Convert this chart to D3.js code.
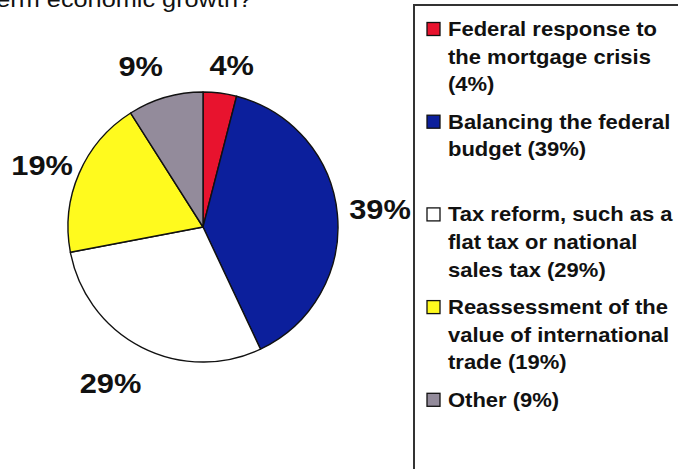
<!DOCTYPE html>
<html>
<head>
<meta charset="utf-8">
<script src="https://cdn.jsdelivr.net/npm/d3@7"></script>
<style>
  html, body { margin: 0; padding: 0; background: #ffffff; }
  svg { display: block; }
  text { font-family: "Liberation Sans", Arial, sans-serif; fill: #111; }
</style>
</head>
<body>
<svg id="chart" width="678" height="469"></svg>
<script>
// ---- data ----
const categories = [
  "Federal response to the mortgage crisis",
  "Balancing the federal budget",
  "Tax reform, such as a flat tax or national sales tax",
  "Reassessment of the value of international trade",
  "Other"
];
const values = [4, 39, 29, 19, 9];
const legendLines = [
  ["Federal response to", "the mortgage crisis", "(4%)"],
  ["Balancing the federal", "budget (39%)"],
  ["Tax reform, such as a", "flat tax or national", "sales tax (29%)"],
  ["Reassessment of the", "value of international", "trade (19%)"],
  ["Other (9%)"]
];
const titleText = "term economic growth?";

// ---- styles / layout ----
const sliceColors = ["#e8132e", "#0c1f9c", "#ffffff", "#fffa1e", "#938b9b"];
const svg = d3.select("#chart");
const cx = 203, cy = 227, radius = 135;

// title (cut off at top like the reference)
svg.append("text")
  .attr("transform", "translate(252,6.5) scale(1.15,1)")
  .attr("text-anchor", "end")
  .style("font-size", "22px")
  .text(titleText);

// pie
const pie = d3.pie().sort(null).value(d => d);
const arcs = pie(values);
const arc = d3.arc().innerRadius(0).outerRadius(radius);
const g = svg.append("g").attr("transform", `translate(${cx},${cy})`);
g.selectAll("path").data(arcs).join("path")
  .attr("d", arc)
  .attr("fill", (d, i) => sliceColors[i])
  .attr("stroke", "#111")
  .attr("stroke-width", 1.4)
  .attr("stroke-linejoin", "round");

// percentage labels outside the pie
const labelSize = 28, labelSx = 1.1, capH = 0.716 * labelSize, gap = 16;
const nudges = [[7, -2], [-4, -3], [-10, 13], [6, 2], [-14, -6]];
arcs.forEach((d, i) => {
  const a = (d.startAngle + d.endAngle) / 2;
  const s = Math.sin(a), c = Math.cos(a);
  const t = g.append("text")
    .attr("text-anchor", "middle")
    .style("font-size", labelSize + "px")
    .style("font-weight", "bold")
    .text(values[i] + "%");
  const w = t.node().getComputedTextLength() * labelSx;
  const x = (radius + gap) * s + s * w / 2 + nudges[i][0];
  const y = -(radius + gap) * c - c * capH / 2 + nudges[i][1];
  t.attr("transform", `translate(${x},${y + capH / 2}) scale(${labelSx},1)`);
});

// legend box (extends past right/bottom edges)
svg.append("path")
  .attr("d", "M414,470 V5 H680")
  .attr("fill", "none")
  .attr("stroke", "#333")
  .attr("stroke-width", 2);

const legendX = 427, textX = 448, firstBase = 36, itemStep = 92.7, lineH = 27.6, sq = 13;
const items = svg.append("g").selectAll("g").data(categories).join("g");
items.each(function(cat, i) {
  const base = firstBase + i * itemStep;
  const gi = d3.select(this);
  gi.append("rect")
    .attr("x", legendX).attr("y", base - sq - 0.5)
    .attr("width", sq).attr("height", sq)
    .attr("fill", sliceColors[i])
    .attr("stroke", "#111").attr("stroke-width", 1.3);
  legendLines[i].forEach((line, j) => {
    gi.append("text")
      .attr("transform", `translate(${textX},${base + j * lineH}) scale(1.1,1)`)
      .style("font-size", "20px")
      .style("font-weight", "bold")
      .text(line);
  });
});
</script>
</body>
</html>
